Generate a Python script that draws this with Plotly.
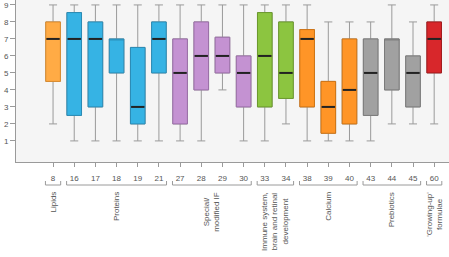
import plotly.graph_objects as go

# ---- data ----
studies = ['8', '16', '17', '18', '19', '21', '27', '28', '29', '30',
           '33', '34', '38', '39', '40', '43', '44', '45', '60']
group_names = ['Lipids', 'Proteins', 'Special/<br>modified IF',
               'Immune system,<br>brain and retinal<br>development',
               'Calcium', 'Prebiotics', "'Growing-up'<br>formulae"]
group_of = [0, 1, 1, 1, 1, 1, 2, 2, 2, 2, 3, 3, 4, 4, 4, 5, 5, 5, 6]
lower = [2, 1, 1, 1, 1, 1, 1, 1, 4, 1, 1, 2, 1, 1, 1, 1, 2, 2, 2]
q1 = [4.5, 2.5, 3, 5, 2, 5, 2, 4, 5, 3, 3, 3.5, 3, 1.45, 2, 2.5, 4, 3, 5]
median = [7, 7, 7, 7, 3, 7, 5, 6, 6, 5, 6, 5, 7, 3, 4, 5, 7, 5, 7]
q3 = [8, 8.55, 8, 7, 6.5, 8, 7, 8, 7.1, 6, 8.55, 8, 7.55, 4.5, 7, 7, 7, 6, 8]
upper = [9, 9, 9, 9, 9, 9, 9, 9, 9, 9, 9, 9, 9, 8, 8, 8, 9, 8, 9]
y_ticks = [1, 2, 3, 4, 5, 6, 7, 8, 9]

# ---- styles ----
fills = ['#ffab45', '#36b3e4', '#c492d2', '#8cc540', '#ff9527', '#a1a1a1', '#d8272b']
edges = ['#d98a2c', '#2a8bb5', '#9a6ea7', '#6b9a2c', '#cf7414', '#7a7a7a', '#a31a1d']
BW = 0.69
grey = '#9a9a9a'
txt = '#555555'

idx = list(range(len(studies)))
fig = go.Figure()

# whiskers (grey) with caps
fig.add_trace(go.Box(
    x=idx, q1=q1, median=median, q3=q3, lowerfence=lower, upperfence=upper,
    width=BW, whiskerwidth=0.55, fillcolor='rgba(0,0,0,0)',
    line=dict(color=grey, width=1), boxpoints=False, hoverinfo='skip',
    showlegend=False))

# coloured boxes per group
for g in range(len(group_names)):
    ii = [i for i in idx if group_of[i] == g]
    fig.add_trace(go.Box(
        x=ii, q1=[q1[i] for i in ii], median=[median[i] for i in ii],
        q3=[q3[i] for i in ii], lowerfence=[q1[i] for i in ii],
        upperfence=[q3[i] for i in ii], width=BW, whiskerwidth=0,
        fillcolor=fills[g], line=dict(color=edges[g], width=1),
        boxpoints=False, hoverinfo='skip', showlegend=False))

# median lines
mi = [i for i in idx if q1[i] < median[i] < q3[i]]
fig.add_trace(go.Scatter(
    x=mi, y=[median[i] for i in mi], mode='markers',
    marker=dict(symbol='line-ew', size=9.5, line=dict(width=2, color='#222222')),
    hoverinfo='skip', showlegend=False))

# group brackets and labels
PLOT_H = 162
yb = -(185 - PLOT_H) / PLOT_H
yt = -(181 - PLOT_H) / PLOT_H
ylab = -(190 - PLOT_H) / PLOT_H
for g, name in enumerate(group_names):
    ii = [i for i in idx if group_of[i] == g]
    x0, x1 = min(ii) - 0.36, max(ii) + 0.36
    fig.add_shape(type='path', xref='x', yref='paper',
                  path=f'M {x0},{yt} L {x0},{yb} L {x1},{yb} L {x1},{yt}',
                  line=dict(color=grey, width=1))
    fig.add_annotation(x=(min(ii) + max(ii)) / 2, y=ylab, xref='x', yref='paper',
                       text=name, textangle=-90, showarrow=False,
                       xanchor='center', yanchor='top', align='center',
                       font=dict(size=8, color=txt, family='Arial, Liberation Sans'))

fig.update_layout(
    width=449, height=257, margin=dict(l=16, r=0, t=0, b=257 - PLOT_H),
    paper_bgcolor='white', plot_bgcolor='#f5f5f5', boxmode='overlay',
    font=dict(family='Arial, Liberation Sans', size=8, color=txt),
    xaxis=dict(range=[-1.75, 18.7], tickvals=idx, ticktext=studies,
               showgrid=False, zeroline=False, showline=True, linecolor=grey,
               ticks='outside', ticklen=4, tickcolor=grey, ticklabelstandoff=4,
               tickfont=dict(size=8, color=txt)),
    yaxis=dict(range=[-0.24, 9.29], tickvals=y_ticks, showgrid=False,
               zeroline=False, showline=True, linecolor=grey, ticks='outside',
               ticklen=5, tickcolor=grey, tickfont=dict(size=8, color=txt)),
)

fig.write_html('out.html')
